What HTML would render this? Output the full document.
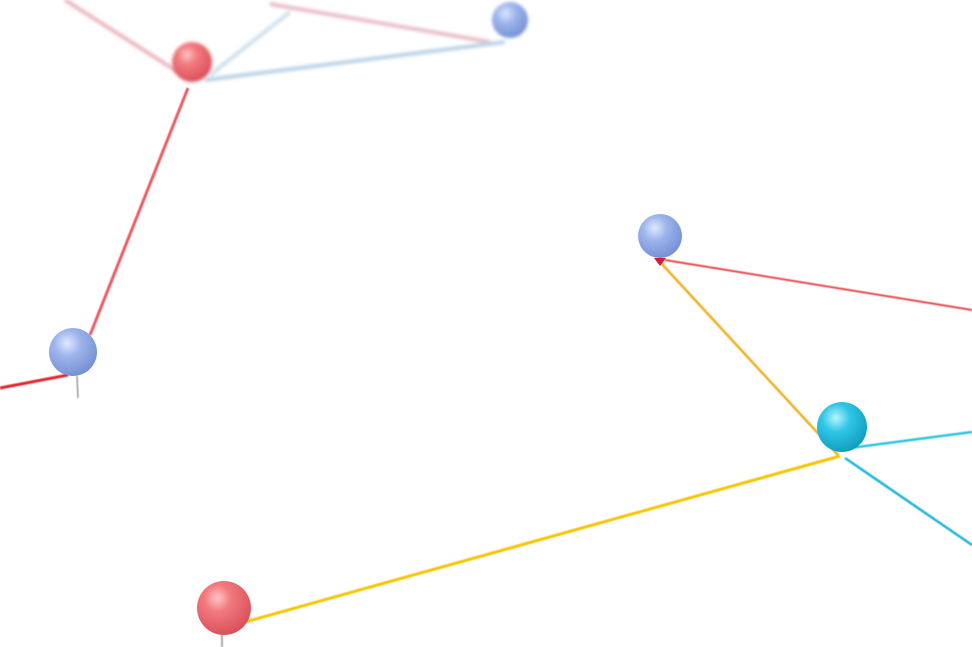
<!DOCTYPE html>
<html><head><meta charset="utf-8"><style>
html,body{margin:0;padding:0;background:#fff;}
svg{display:block;}
</style></head><body>
<svg width="972" height="647" viewBox="0 0 972 647" xmlns="http://www.w3.org/2000/svg">
<defs>
<radialGradient id="red" cx="0.38" cy="0.32" r="0.7">
<stop offset="0" stop-color="#ffc4c4"/><stop offset="0.35" stop-color="#f27a7e"/><stop offset="1" stop-color="#d9505a"/></radialGradient>
<radialGradient id="blue" cx="0.38" cy="0.32" r="0.7">
<stop offset="0" stop-color="#dfe8ff"/><stop offset="0.4" stop-color="#9db4ec"/><stop offset="1" stop-color="#7590d4"/></radialGradient>
<radialGradient id="cyan" cx="0.38" cy="0.32" r="0.7">
<stop offset="0" stop-color="#b8f4ff"/><stop offset="0.4" stop-color="#2fc6e6"/><stop offset="1" stop-color="#109ec0"/></radialGradient>
<filter id="blur1"><feGaussianBlur stdDeviation="1.5"/></filter>
<filter id="blur2"><feGaussianBlur stdDeviation="0.6"/></filter>
</defs>
<!-- faded top strings -->
<g filter="url(#blur1)" stroke-width="4" fill="none">
<line x1="65" y1="0" x2="178" y2="72" stroke="#eab6bd"/>
<line x1="270" y1="4" x2="490" y2="42" stroke="#e9bcc8"/>
<line x1="205" y1="80" x2="505" y2="42" stroke="#b9d2e6"/>
<line x1="210" y1="75" x2="290" y2="12" stroke="#cfe0ee"/>
</g>
<g filter="url(#blur2)" fill="none">
<line x1="188" y1="88" x2="90" y2="335" stroke="#ec5a62" stroke-width="3"/>
<line x1="0" y1="388" x2="68" y2="375" stroke="#e2262e" stroke-width="3"/>
<line x1="665" y1="260" x2="972" y2="310" stroke="#e8484c" stroke-width="2"/>
<line x1="660" y1="262" x2="838" y2="455" stroke="#f0b020" stroke-width="2.5"/>
<line x1="840" y1="456" x2="245" y2="622" stroke="#f6c400" stroke-width="3"/>
<line x1="850" y1="448" x2="972" y2="432" stroke="#2cc4e4" stroke-width="2.5"/>
<line x1="845" y1="458" x2="972" y2="545" stroke="#1ab4da" stroke-width="2.5"/>
<line x1="77" y1="376" x2="78" y2="398" stroke="#999" stroke-width="1.5"/>
<line x1="222" y1="632" x2="222" y2="647" stroke="#aaa" stroke-width="2"/>
</g>
<!-- pins -->
<g filter="url(#blur1)">
<circle cx="192" cy="62" r="20" fill="url(#red)"/>
<circle cx="510" cy="20" r="18" fill="url(#blue)"/>
</g>
<circle cx="73" cy="352" r="24" fill="url(#blue)"/>
<circle cx="660" cy="236" r="22" fill="url(#blue)"/>
<path d="M654 258 L666 258 L660 266 Z" fill="#d02030"/>
<circle cx="842" cy="427" r="25" fill="url(#cyan)"/>
<circle cx="224" cy="608" r="27" fill="url(#red)"/>
</svg>
</body></html>
